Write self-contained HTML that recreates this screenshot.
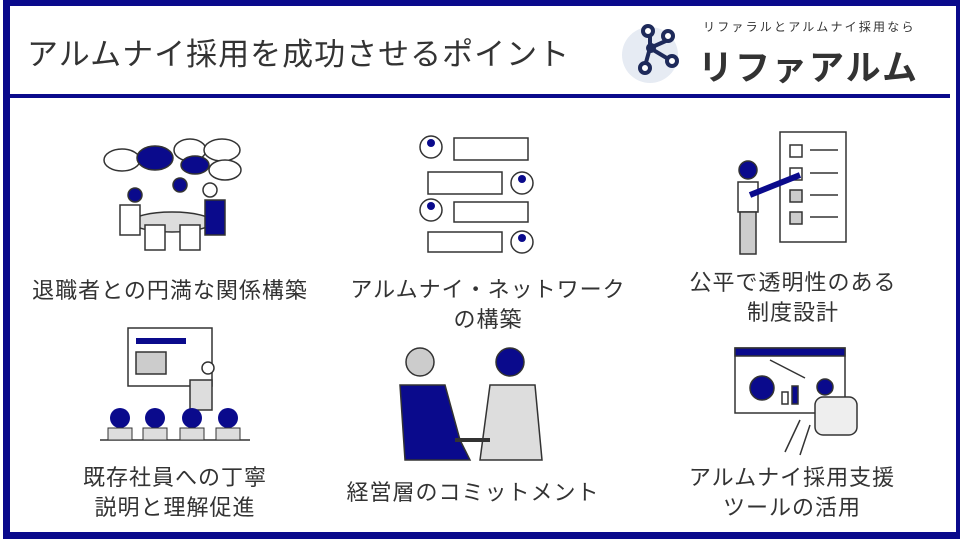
<!DOCTYPE html>
<html><head><meta charset="utf-8"><style>
body{margin:0;width:960px;height:540px;background:#fff;overflow:hidden;position:relative;font-family:"Liberation Sans","Noto Sans CJK JP",sans-serif;color:#333}
.frame{position:absolute;left:3px;top:0;width:946px;height:526px;border:7px solid #0a0a8c;border-top-width:6px}
.hdr{position:absolute;left:10px;top:6px;width:940px;height:88px;border-bottom:4px solid #0a0a8c}
.t{position:absolute;left:27px;top:29px;font-size:31px;letter-spacing:1px;color:#333}
.l{position:absolute;font-size:22px;letter-spacing:1px;text-align:center;line-height:30px;color:#333;transform:translateX(-50%);white-space:nowrap}
svg{position:absolute;left:0;top:0}
</style></head><body>
<div class="frame"></div>
<div class="hdr"></div>
<div class="t">アルムナイ採用を成功させるポイント</div>
<div style="position:absolute;left:703px;top:18px;font-size:12px;letter-spacing:2.2px;color:#333;white-space:nowrap">リファラルとアルムナイ採用なら</div>
<div style="position:absolute;left:698px;top:40px;font-size:35px;font-weight:bold;letter-spacing:2px;color:#333;white-space:nowrap">リファアルム</div>
<svg width="960" height="540">
<circle cx="650" cy="55" r="28" fill="#e6ebf3"/>
<g stroke="#1e2a5a" stroke-width="4" fill="#fff">
<line x1="650" y1="48" x2="650" y2="30"/><line x1="650" y1="48" x2="668" y2="40"/><line x1="650" y1="48" x2="645" y2="66"/><line x1="650" y1="48" x2="670" y2="60"/>
<circle cx="648" cy="31" r="5"/><circle cx="668" cy="36" r="5"/><circle cx="645" cy="68" r="5"/><circle cx="672" cy="61" r="5"/></g>
<circle cx="651" cy="48" r="5" fill="#1e2a5a"/>
<g stroke="#333" stroke-width="1.5" fill="#fff">
<ellipse cx="122" cy="160" rx="18" ry="11"/><ellipse cx="155" cy="158" rx="18" ry="12" fill="#0a0a8c"/><ellipse cx="190" cy="150" rx="16" ry="11"/><ellipse cx="222" cy="150" rx="18" ry="11"/><ellipse cx="225" cy="170" rx="16" ry="10"/><ellipse cx="195" cy="165" rx="14" ry="9" fill="#0a0a8c"/>
<ellipse cx="172" cy="222" rx="40" ry="10" fill="#ddd"/>
<circle cx="135" cy="195" r="7" fill="#0a0a8c"/><circle cx="210" cy="190" r="7"/><circle cx="180" cy="185" r="7" fill="#0a0a8c"/>
<rect x="120" y="205" width="20" height="30"/><rect x="205" y="200" width="20" height="35" fill="#0a0a8c"/><rect x="145" y="225" width="20" height="25"/><rect x="180" y="225" width="20" height="25"/></g>
<g stroke="#333" stroke-width="1.5" fill="#fff">
<circle cx="431" cy="147" r="11"/><rect x="454" y="138" width="74" height="22"/>
<rect x="428" y="172" width="74" height="22"/><circle cx="522" cy="183" r="11"/>
<circle cx="431" cy="210" r="11"/><rect x="454" y="202" width="74" height="20"/>
<rect x="428" y="232" width="74" height="20"/><circle cx="522" cy="242" r="11"/></g>
<g fill="#0a0a8c"><circle cx="431" cy="143" r="4"/><circle cx="522" cy="179" r="4"/><circle cx="431" cy="206" r="4"/><circle cx="522" cy="238" r="4"/></g>
<g stroke="#333" stroke-width="1.5" fill="#fff">
<rect x="780" y="132" width="66" height="110"/>
<rect x="790" y="145" width="12" height="12"/><rect x="790" y="168" width="12" height="12"/><rect x="790" y="190" width="12" height="12" fill="#ccc"/><rect x="790" y="212" width="12" height="12" fill="#ccc"/>
<line x1="810" y1="150" x2="838" y2="150"/><line x1="810" y1="173" x2="838" y2="173"/><line x1="810" y1="195" x2="838" y2="195"/><line x1="810" y1="217" x2="838" y2="217"/>
<circle cx="748" cy="170" r="9" fill="#0a0a8c"/><rect x="738" y="182" width="20" height="30"/><rect x="740" y="212" width="16" height="42" fill="#ccc"/></g>
<line x1="750" y1="195" x2="800" y2="175" stroke="#0a0a8c" stroke-width="6"/>
<g stroke="#333" stroke-width="1.5" fill="#fff">
<rect x="128" y="328" width="84" height="58"/><rect x="136" y="352" width="30" height="22" fill="#ccc"/>
<rect x="190" y="380" width="22" height="30" fill="#ddd"/><circle cx="208" cy="368" r="6"/>
<line x1="100" y1="440" x2="250" y2="440"/></g>
<rect x="136" y="338" width="50" height="6" fill="#0a0a8c"/>
<g fill="#0a0a8c"><circle cx="120" cy="418" r="10"/><circle cx="155" cy="418" r="10"/><circle cx="192" cy="418" r="10"/><circle cx="228" cy="418" r="10"/></g>
<g fill="#ddd" stroke="#333"><rect x="108" y="428" width="24" height="12"/><rect x="143" y="428" width="24" height="12"/><rect x="180" y="428" width="24" height="12"/><rect x="216" y="428" width="24" height="12"/></g>
<g stroke="#333" stroke-width="1.5">
<circle cx="420" cy="362" r="14" fill="#ccc"/><path d="M400 385 L445 385 L460 440 L470 460 L405 460 Z" fill="#0a0a8c"/>
<circle cx="510" cy="362" r="14" fill="#0a0a8c"/><path d="M490 385 L535 385 L542 460 L480 460 Z" fill="#ddd"/>
<line x1="455" y1="440" x2="490" y2="440" stroke-width="4"/></g>
<g stroke="#333" stroke-width="1.5" fill="#fff">
<rect x="735" y="348" width="110" height="65"/><rect x="735" y="348" width="110" height="8" fill="#0a0a8c"/>
<circle cx="762" cy="388" r="12" fill="#0a0a8c"/><rect x="782" y="392" width="6" height="12"/><rect x="792" y="386" width="6" height="18" fill="#0a0a8c"/>
<line x1="770" y1="360" x2="805" y2="378"/>
<circle cx="825" cy="387" r="8" fill="#0a0a8c"/><rect x="815" y="397" width="42" height="38" rx="8" fill="#eee"/>
<line x1="800" y1="420" x2="785" y2="452"/><line x1="810" y1="425" x2="800" y2="455"/></g>
</svg>
<div class="l" style="left:170px;top:276px">退職者との円満な関係構築</div>
<div class="l" style="left:488px;top:275px">アルムナイ・ネットワーク<br>の構築</div>
<div class="l" style="left:793px;top:268px">公平で透明性のある<br>制度設計</div>
<div class="l" style="left:175px;top:463px">既存社員への丁寧<br>説明と理解促進</div>
<div class="l" style="left:473px;top:478px">経営層のコミットメント</div>
<div class="l" style="left:792px;top:463px">アルムナイ採用支援<br>ツールの活用</div>
</body></html>
